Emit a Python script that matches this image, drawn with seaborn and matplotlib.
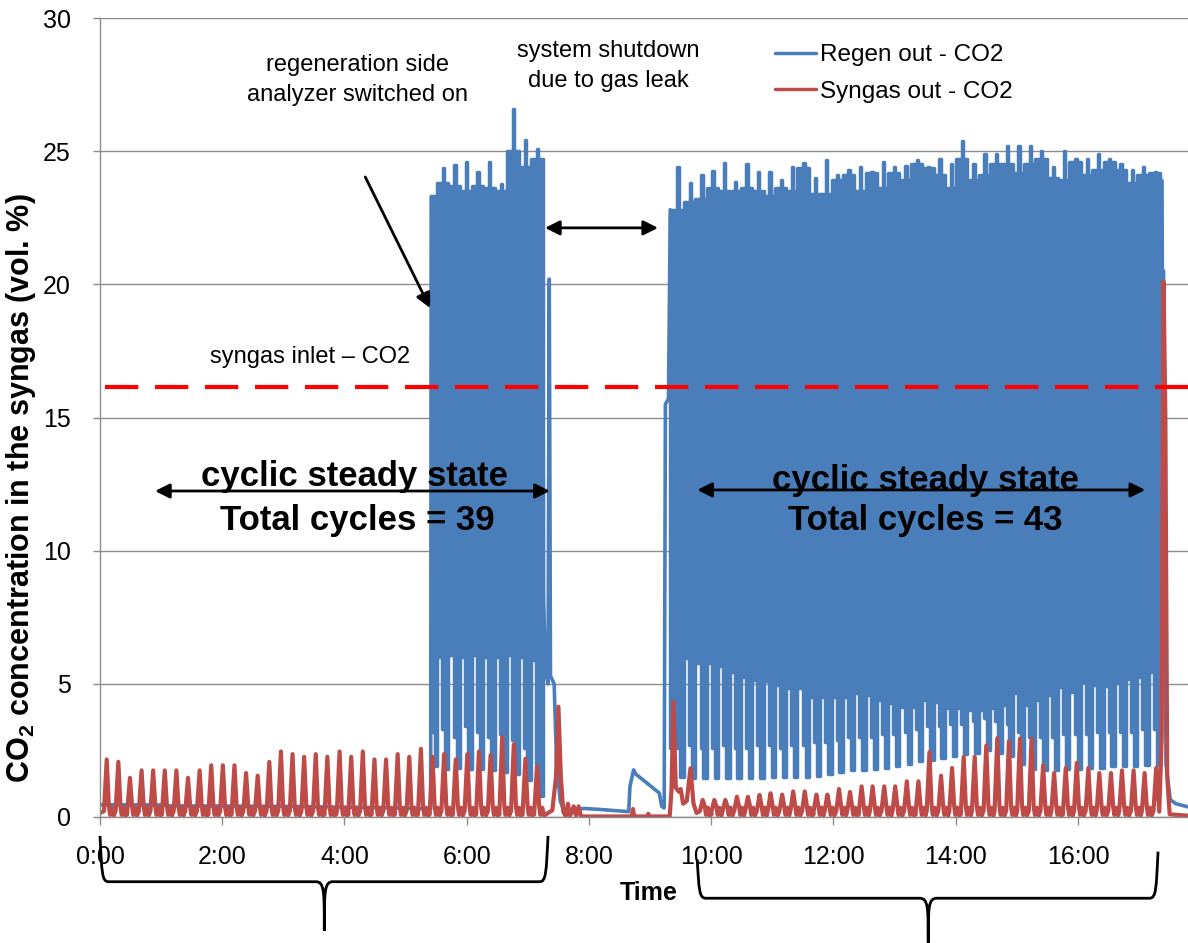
import numpy as np
import pandas as pd
import matplotlib
matplotlib.use("Agg")
import matplotlib.pyplot as plt
import seaborn as sns
from matplotlib.path import Path
from matplotlib.patches import PathPatch
from matplotlib.lines import Line2D

sns.set_theme(style="white")
plt.rcParams['font.family'] = ['Liberation Sans', 'DejaVu Sans']
plt.rcParams['mathtext.fontset'] = 'custom'
plt.rcParams['mathtext.rm'] = 'Liberation Sans'
plt.rcParams['mathtext.bf'] = 'Liberation Sans:bold'
for key in ['text.color', 'axes.labelcolor', 'xtick.color', 'ytick.color']:
    plt.rcParams[key] = 'black'

BLUE = '#4A7EBB'
RED = '#BE4B48'
GRID = '#8C8C8C'

# ---- data (time in hours, CO2 in vol. %) ----
XTICKS = [0, 2, 4, 6, 8, 10, 12, 14, 16]
XTICK_LABELS = ["0:00", "2:00", "4:00", "6:00", "8:00", "10:00", "12:00", "14:00", "16:00"]
YTICKS = [0, 5, 10, 15, 20, 25, 30]
LEGEND_LABELS = ["Regen out - CO2", "Syngas out - CO2"]
SYNGAS_INLET = 16.15

# syngas outlet: regular cycle peaks
RED_T1 = [0.11, 0.30, 0.49, 0.68, 0.87, 1.06, 1.25, 1.44, 1.63, 1.82, 2.01, 2.20, 2.39,
          2.58, 2.77, 2.96, 3.15, 3.34, 3.53, 3.72, 3.92, 4.11, 4.30, 4.49, 4.68, 4.87,
          5.06, 5.25, 5.44, 5.63, 5.82, 6.01, 6.20, 6.39, 6.58, 6.77, 6.96, 7.15]
RED_V1 = [2.16, 2.07, 1.47, 1.75, 1.75, 1.75, 1.75, 1.47, 1.75, 1.94, 1.94, 1.94, 1.65,
          1.55, 2.07, 2.46, 2.36, 2.26, 2.36, 2.26, 2.46, 2.26, 2.46, 2.16, 2.16, 2.36,
          2.26, 2.56, 2.26, 2.36, 2.16, 2.36, 2.46, 2.32, 3.00, 2.73, 2.19, 1.90]
RED_T2 = [9.86, 10.05, 10.23, 10.42, 10.60, 10.79, 10.97, 11.16, 11.34, 11.53, 11.72,
          11.90, 12.09, 12.27, 12.46, 12.64, 12.83, 13.01, 13.20, 13.39, 13.57, 13.76,
          13.94, 14.13, 14.31, 14.50, 14.68, 14.87, 15.05, 15.24, 15.43, 15.61, 15.80,
          15.98, 16.17, 16.35, 16.54, 16.72, 16.91, 17.09, 17.28]
RED_V2 = [0.64, 0.64, 0.64, 0.76, 0.76, 0.83, 0.89, 0.84, 0.96, 0.96, 0.84, 0.84, 1.05,
          0.94, 1.15, 1.15, 1.15, 1.15, 1.34, 1.34, 2.43, 1.55, 1.84, 2.26, 2.26, 2.68,
          2.96, 2.84, 2.94, 2.94, 1.94, 1.65, 1.84, 2.03, 1.84, 1.65, 1.65, 1.75, 1.75,
          1.65, 1.84]
# syngas outlet: shutdown / restart / end segments
RED_GAP_T = [7.40, 7.46, 7.50, 7.54, 7.58, 7.62, 7.655, 7.69, 7.75, 7.79, 7.83, 7.87,
             8.70, 8.72, 8.74, 8.95, 8.97, 8.99, 9.32, 9.35, 9.38, 9.42, 9.47, 9.50,
             9.54, 9.60, 9.66, 9.71, 9.76, 9.80]
RED_GAP_V = [0.25, 1.5, 4.14, 1.5, 0.2, 0.02, 0.5, 0.05, 0.4, 0.05, 0.4, 0.02,
             0.02, 0.3, 0.02, 0.02, 0.12, 0.02, 0.02, 1.0, 4.33, 1.1, 0.95, 1.05,
             0.5, 0.6, 1.83, 0.5, 0.15, 0.2]
RED_END_T = [17.33, 17.37, 17.40, 17.43, 17.46, 17.50, 17.80]
RED_END_V = [0.2, 3.0, 20.1, 15.0, 1.5, 0.1, 0.05]

# regeneration outlet: single-line parts
BLUE_PRE_T = [0.0, 1.05, 1.12, 3.0, 4.8, 5.41, 5.42]
BLUE_PRE_V = [0.46, 0.45, 0.42, 0.40, 0.34, 0.30, 23.3]
BLUE_MID_T = [7.245, 7.255, 7.29, 7.33, 7.35, 7.37, 7.43, 7.47, 7.53, 7.60, 7.70, 7.80,
              7.93, 8.20, 8.65, 8.67, 8.73, 8.77, 8.88, 9.15, 9.19, 9.23, 9.25, 9.30, 9.33]
BLUE_MID_V = [24.0, 8.3, 5.5, 5.0, 20.2, 5.3, 5.0, 2.0, 0.6, 0.15, 0.1, 0.3,
              0.32, 0.28, 0.2, 1.14, 1.77, 1.6, 1.4, 0.9, 0.4, 0.34, 15.5, 15.7, 22.8]
BLUE_END_T = [17.35, 17.375, 17.38, 17.40, 17.44, 17.51, 17.60, 17.80]
BLUE_END_V = [23.9, 23.9, 20.5, 20.5, 2.0, 0.65, 0.5, 0.38]

# regeneration outlet: cyclic blocks (cycle boundaries, per-cycle levels)
B1_EDGES = [5.42, 5.51, 5.70, 5.89, 6.08, 6.27, 6.46, 6.66, 6.85, 7.05, 7.24]
B1_PEAK = [23.3, 24.36, 24.48, 24.6, 24.23, 24.6, 23.75, 26.6, 25.42, 25.1]
B1_LEVEL = [23.3, 23.8, 23.7, 23.5, 23.7, 23.6, 23.5, 25.0, 24.4, 24.7]
B1_GAPTOP = [6.0, 6.1, 6.0, 6.1, 6.0, 6.0, 6.1, 6.0, 5.9]
B1_SHOULDER = [3.2, 3.3, 3.0, 3.4, 3.2, 3.0, 3.1, 2.9, 2.6, 2.0]
B1_TROUGH = [1.9, 1.8, 1.85, 1.8, 1.8, 1.75, 1.7, 1.6, 1.4, 0.8]

B2_EDGES = [9.33, 9.56, 9.74, 9.93, 10.11, 10.30, 10.48, 10.67, 10.86, 11.04, 11.23,
            11.41, 11.60, 11.78, 11.97, 12.15, 12.34, 12.53, 12.71, 12.90, 13.08,
            13.27, 13.45, 13.64, 13.82, 14.01, 14.19, 14.38, 14.56, 14.75, 14.93,
            15.12, 15.30, 15.49, 15.68, 15.86, 16.05, 16.23, 16.42, 16.60, 16.79,
            16.97, 17.16, 17.35]
B2_PEAK = [24.4, 23.8, 24.1, 24.25, 24.55, 23.85, 24.5, 24.2, 24.2, 23.9, 24.4, 24.55,
           24.0, 24.67, 24.1, 24.3, 24.4, 24.2, 24.6, 24.4, 24.45, 24.67, 24.4, 24.7,
           24.5, 25.4, 24.5, 24.9, 24.9, 25.2, 25.2, 25.2, 25.0, 24.4, 25.0, 24.7, 24.7,
           24.9, 24.7, 24.5, 24.3, 24.4, 24.2]
B2_LEVEL = [22.8, 23.1, 23.2, 23.6, 23.5, 23.5, 23.6, 23.5, 23.3, 23.6, 23.5, 24.36,
            23.4, 23.4, 23.9, 24.1, 23.5, 24.17, 23.6, 24.17, 23.9, 24.5, 24.36, 24.1,
            23.6, 24.7, 23.9, 24.1, 24.5, 24.5, 24.17, 24.5, 24.7, 24.0, 23.9, 24.6,
            24.1, 24.3, 24.6, 24.3, 23.8, 24.1, 24.17]
B2_GAPTOP = [5.96, 5.77, 5.77, 5.67, 5.46, 5.27, 5.14, 5.1, 4.96, 4.83, 4.83, 4.52,
             4.52, 4.52, 4.52, 4.64, 4.58, 4.4, 4.27, 4.14, 4.14, 4.4, 4.33, 4.1, 4.1,
             4.0, 4.0, 4.1, 4.2, 4.64, 4.2, 4.39, 4.58, 4.89, 4.7, 5.08, 4.96, 4.92,
             5.04, 5.17, 5.27, 5.46]
B2_SHOULDER = [2.6, 2.7, 2.6, 2.6, 2.7, 2.6, 2.6, 2.7, 2.7, 2.6, 2.7, 2.7, 2.8, 2.8,
               2.9, 3.0, 3.0, 3.0, 3.1, 3.1, 3.2, 3.3, 3.4, 3.4, 3.5, 3.5, 3.6, 3.7,
               3.6, 3.5, 3.2, 3.0, 3.0, 3.0, 3.1, 3.1, 3.1, 3.2, 3.2, 3.2, 3.2, 3.3, 3.3]
B2_TROUGH = [1.5, 1.45, 1.45, 1.45, 1.45, 1.45, 1.45, 1.45, 1.5, 1.5, 1.5, 1.5, 1.55,
             1.6, 1.7, 1.75, 1.75, 1.8, 1.85, 1.9, 2.0, 2.1, 2.15, 2.2, 2.3, 2.35, 2.4,
             2.5, 2.4, 2.3, 2.0, 1.8, 1.75, 1.75, 1.8, 1.8, 1.85, 1.85, 1.9, 1.9, 1.9,
             1.95, 1.95]


def build_red():
    # each regular peak drawn with the same narrow pulse + small after-bump
    shape_dt = [-0.045, 0.0, 0.035, 0.055, 0.085, 0.115, 0.145]
    shape_v = [0.22, None, 0.4, 0.08, 0.35, 0.05, 0.1]
    stops = sorted(RED_T1 + RED_T2 + [RED_GAP_T[0], RED_END_T[0]])
    pts = [(0.0, 0.15)]
    for t, v in list(zip(RED_T1, RED_V1)) + list(zip(RED_T2, RED_V2)):
        nxt = min(s for s in stops if s > t)
        for dt, lv in zip(shape_dt, shape_v):
            if dt > 0 and t + dt >= nxt - 0.045:
                break
            pts.append((t + dt, v if lv is None else lv))
    pts += list(zip(RED_GAP_T, RED_GAP_V)) + list(zip(RED_END_T, RED_END_V))
    pts.sort()
    return pd.DataFrame(pts, columns=['time', 'co2'])


def block_envelope(edges, peak, level, gaptop, shoulder, trough):
    frac = [0.0, 0.45, 0.45, 0.5, 0.5, 0.62, 0.62, 0.7, 0.7, 1.0]
    xs, lo, hi = [], [], []
    for i in range(len(edges) - 1):
        s, w = edges[i], edges[i + 1] - edges[i]
        gt = gaptop[i - 1] if i > 0 else shoulder[i]
        sh, tr, lv, pk = shoulder[i], trough[i], level[i], peak[i]
        lows = [gt, gt, sh, sh, sh, sh, sh, sh, tr, tr]
        highs = [lv, lv, lv, lv, pk, pk, lv, lv, lv, lv]
        xs += [s + f * w for f in frac]
        lo += lows
        hi += highs
    return np.array(xs), np.array(lo), np.array(hi)


fig = plt.figure(figsize=(11.88, 9.43), dpi=100)
ax = fig.add_axes([100 / 1188, 1 - 817 / 943, 1 - 100 / 1188, (817 - 18) / 943])

# regeneration side (blue)
for t, v in [(BLUE_PRE_T, BLUE_PRE_V), (BLUE_MID_T, BLUE_MID_V), (BLUE_END_T, BLUE_END_V)]:
    sns.lineplot(x=t, y=v, ax=ax, color=BLUE, lw=2.6, estimator=None, sort=False)
for blk in [(B1_EDGES, B1_PEAK, B1_LEVEL, B1_GAPTOP, B1_SHOULDER, B1_TROUGH),
            (B2_EDGES, B2_PEAK, B2_LEVEL, B2_GAPTOP, B2_SHOULDER, B2_TROUGH)]:
    xs, lo, hi = block_envelope(*blk)
    ax.fill_between(xs, lo, hi, facecolor=BLUE, edgecolor=BLUE, lw=2.5, joinstyle='round')

# syngas side (red)
red = build_red()
sns.lineplot(data=red, x='time', y='co2', ax=ax, color=RED, lw=3, estimator=None, sort=False)

ax.axhline(SYNGAS_INLET, xmin=0.005, color='#FF0000', lw=3, ls=(0, (8, 4)))

ax.set_xlim(0, 17.8)
ax.set_ylim(0, 30)
ax.set_xticks(XTICKS)
ax.set_xticklabels(XTICK_LABELS)
ax.set_yticks(YTICKS)
ax.set_yticklabels([str(y) for y in YTICKS])
ax.yaxis.grid(True, color=GRID, lw=1)
ax.xaxis.grid(False)
ax.set_axisbelow(True)
for side in ['top', 'right']:
    ax.spines[side].set_visible(False)
for side in ['left', 'bottom']:
    ax.spines[side].set_color(GRID)
    ax.spines[side].set_linewidth(1)
ax.tick_params(axis='x', direction='out', length=6, width=1, color=GRID, pad=14,
               labelsize=18, bottom=True)
ax.tick_params(axis='y', direction='out', length=5, width=1, color=GRID, pad=16,
               labelsize=18, left=True)
ax.set_xlabel('')
ax.set_ylabel("CO$_\\mathbf{2}$ concentration in the syngas (vol. %)",
              fontsize=22, fontweight='bold')
ax.yaxis.set_label_coords(-0.057, 0.412)

handles = [Line2D([0], [0], color=BLUE, lw=2.5), Line2D([0], [0], color=RED, lw=2.5)]
ax.legend(handles, LEGEND_LABELS, loc='upper left', bbox_to_anchor=(775 / 1188, 1 - 44 / 943),
          bbox_transform=fig.transFigure, frameon=False, fontsize=17.5, handlelength=1.7,
          handletextpad=0.15, labelspacing=0.6, borderpad=0, borderaxespad=0)

# annotations
ax.text(4.22, 27.66, "regeneration side\nanalyzer switched on", ha='center', va='center',
        fontsize=17, linespacing=1.45)
ax.text(8.31, 28.2, "system shutdown\ndue to gas leak", ha='center', va='center',
        fontsize=17, linespacing=1.45)
ax.text(3.44, 17.27, "syngas inlet \u2013 CO2", ha='center', va='center', fontsize=17)
ax.text(4.17, 12.77, "cyclic steady state", ha='center', va='center', fontsize=25, fontweight='bold')
ax.text(4.21, 11.15, "Total cycles = 39", ha='center', va='center', fontsize=25, fontweight='bold')
ax.text(13.50, 12.65, "cyclic steady state", ha='center', va='center', fontsize=25, fontweight='bold')
ax.text(13.50, 11.12, "Total cycles = 43", ha='center', va='center', fontsize=25, fontweight='bold')

arrow_kw = dict(arrowstyle='<|-|>', color='black', lw=2, mutation_scale=22, shrinkA=0, shrinkB=0)
ax.annotate('', xy=(7.36, 12.24), xytext=(0.90, 12.24), arrowprops=arrow_kw)
ax.annotate('', xy=(17.10, 12.28), xytext=(9.77, 12.28), arrowprops=arrow_kw)
ax.annotate('', xy=(9.13, 22.12), xytext=(7.28, 22.12), arrowprops=arrow_kw)
ax.annotate('', xy=(5.40, 19.11), xytext=(4.34, 24.03),
            arrowprops=dict(arrowstyle='-|>', color='black', lw=2, mutation_scale=22,
                            shrinkA=0, shrinkB=0))


def brace(xl, yl, xc, yh, xp, yb, xr, yr):
    c = 0.14
    verts = [(xl, yl), (xl + 0.03, yh + 0.35), (xl + 0.03, yh), (xl + c, yh),
             (xp - c, yh), (xp, yh), (xp, yh - 0.35), (xp, yb),
             (xp, yh - 0.35), (xp, yh), (xp + c, yh),
             (xr - c, yh), (xr - 0.03, yh), (xr - 0.03, yh + 0.35), (xr, yr)]
    codes = [Path.MOVETO, Path.CURVE4, Path.CURVE4, Path.CURVE4,
             Path.LINETO, Path.CURVE4, Path.CURVE4, Path.CURVE4,
             Path.CURVE4, Path.CURVE4, Path.CURVE4,
             Path.LINETO, Path.CURVE4, Path.CURVE4, Path.CURVE4]
    ax.add_patch(PathPatch(Path(verts, codes), fill=False, lw=2, color='black', clip_on=False))


brace(0.0, -0.71, 0.10, -2.43, 3.67, -4.27, 7.33, -0.71)
brace(9.77, -1.59, 9.89, -3.05, 13.55, -4.72, 17.31, -1.30)
ax.text(8.97, -2.85, "Time", ha='center', va='center', fontsize=18, fontweight='bold')

fig.savefig("out.png", dpi=100)
